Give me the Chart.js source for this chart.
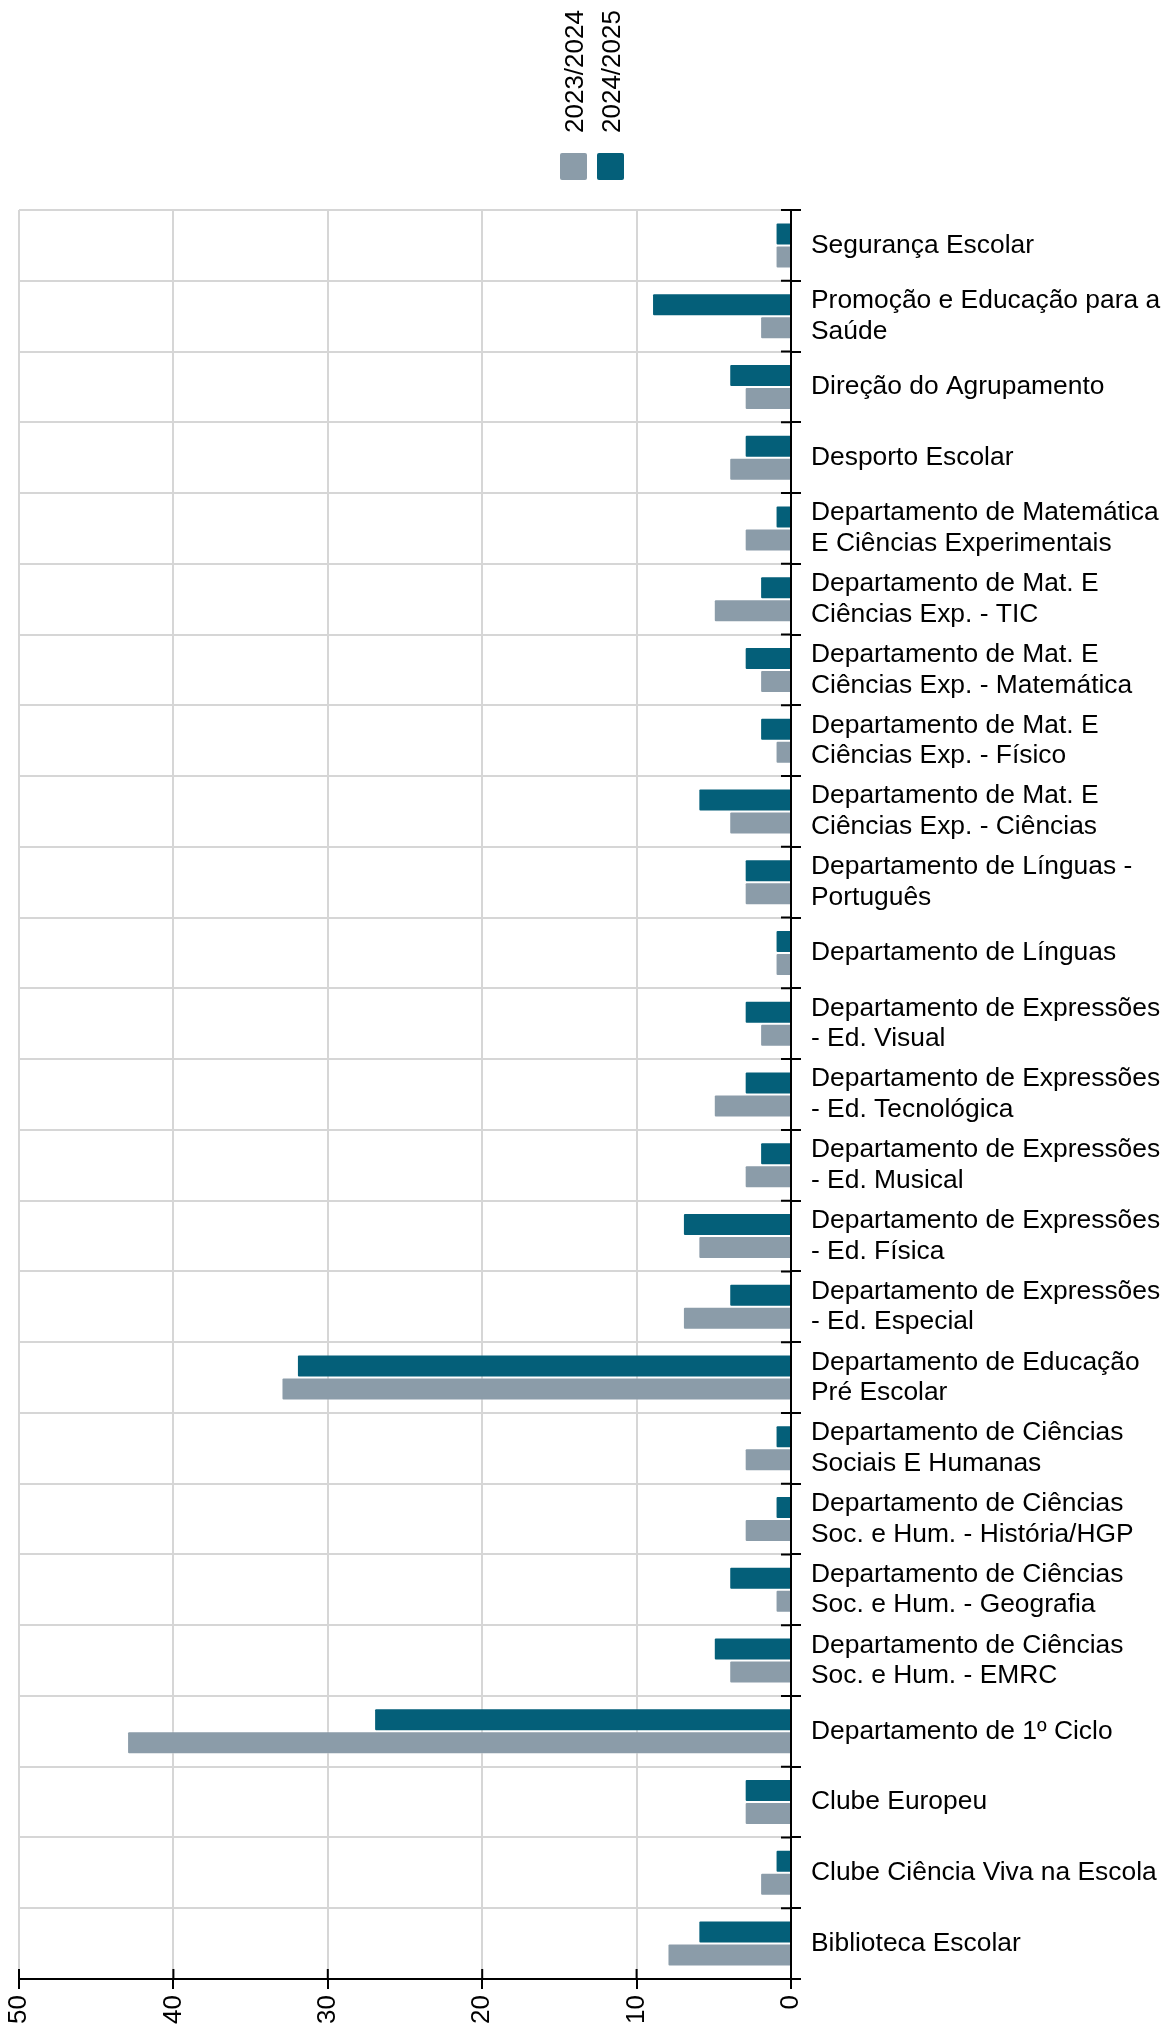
<!DOCTYPE html>
<html>
<head>
<meta charset="utf-8">
<script src="https://cdn.jsdelivr.net/npm/chart.js@4/dist/chart.umd.min.js"></script>
<style>
  html, body { margin: 0; padding: 0; background: #fff; }
  canvas { display: block; }
</style>
</head>
<body>
<canvas id="chart" width="1162" height="2027"></canvas>
<script>
// categories, top to bottom (already wrapped as in the original labels)
const categories = [
    'Segurança Escolar',
    ['Promoção e Educação para a', 'Saúde'],
    'Direção do Agrupamento',
    'Desporto Escolar',
    ['Departamento de Matemática', 'E Ciências Experimentais'],
    ['Departamento de Mat. E', 'Ciências Exp. - TIC'],
    ['Departamento de Mat. E', 'Ciências Exp. - Matemática'],
    ['Departamento de Mat. E', 'Ciências Exp. - Físico'],
    ['Departamento de Mat. E', 'Ciências Exp. - Ciências'],
    ['Departamento de Línguas -', 'Português'],
    'Departamento de Línguas',
    ['Departamento de Expressões', '- Ed. Visual'],
    ['Departamento de Expressões', '- Ed. Tecnológica'],
    ['Departamento de Expressões', '- Ed. Musical'],
    ['Departamento de Expressões', '- Ed. Física'],
    ['Departamento de Expressões', '- Ed. Especial'],
    ['Departamento de Educação', 'Pré Escolar'],
    ['Departamento de Ciências', 'Sociais E Humanas'],
    ['Departamento de Ciências', 'Soc. e Hum. - História/HGP'],
    ['Departamento de Ciências', 'Soc. e Hum. - Geografia'],
    ['Departamento de Ciências', 'Soc. e Hum. - EMRC'],
    'Departamento de 1º Ciclo',
    'Clube Europeu',
    'Clube Ciência Viva na Escola',
    'Biblioteca Escolar'
];

const values2023 = [1, 2, 3, 4, 3, 5, 2, 1, 4, 3, 1, 2, 5, 3, 6, 7, 33, 3, 3, 1, 4, 43, 3, 2, 8];
const values2024 = [1, 9, 4, 3, 1, 2, 3, 2, 6, 3, 1, 3, 3, 2, 7, 4, 32, 1, 1, 4, 5, 27, 3, 1, 6];

const seriesNames = ['2023/2024', '2024/2025'];
const valueTicks = [0, 10, 20, 30, 40, 50];

const gray = '#8b9ca9';
const teal = '#045f79';
const fontFamily = '"Liberation Sans", Arial, sans-serif';

// short black tick marks on the inner side of both axes
const innerTicks = {
    id: 'innerTicks',
    afterDraw(chart) {
        const ctx = chart.ctx;
        const x = chart.scales.x;
        const y = chart.scales.y;
        const area = chart.chartArea;
        ctx.save();
        ctx.strokeStyle = '#000';
        ctx.lineWidth = 2;
        ctx.beginPath();
        valueTicks.forEach(v => {
            const px = x.getPixelForValue(v);
            ctx.moveTo(px, area.bottom - 10);
            ctx.lineTo(px, area.bottom);
        });
        for (let k = 0; k <= categories.length; k++) {
            const py = y.getPixelForValue(k - 0.5);
            ctx.moveTo(area.right - 10, py);
            ctx.lineTo(area.right, py);
        }
        ctx.stroke();
        ctx.restore();
    }
};

// vertical legend above the chart
const verticalLegend = {
    id: 'verticalLegend',
    afterDraw(chart) {
        const ctx = chart.ctx;
        const size = 27;
        const gap = 10;
        const colors = [gray, teal];
        const startX = 560;
        const boxTop = 153;
        ctx.save();
        seriesNames.forEach((name, i) => {
            const bx = startX + i * (size + gap);
            ctx.fillStyle = colors[i];
            ctx.beginPath();
            if (ctx.roundRect) ctx.roundRect(bx, boxTop, size, size, 2);
            else ctx.rect(bx, boxTop, size, size);
            ctx.fill();

            ctx.save();
            ctx.translate(bx + size / 2 + 2, boxTop - 20);
            ctx.rotate(-Math.PI / 2);
            ctx.fillStyle = '#000';
            ctx.font = '26px ' + fontFamily;
            ctx.textAlign = 'left';
            ctx.textBaseline = 'middle';
            ctx.fillText(name, 0, 0);
            ctx.restore();
        });
        ctx.restore();
    }
};

const ctx = document.getElementById('chart').getContext('2d');
new Chart(ctx, {
    type: 'bar',
    data: {
        labels: categories,
        datasets: [
            {
                label: seriesNames[1],
                data: values2024,
                backgroundColor: teal,
                borderColor: 'rgba(255,255,255,0.25)',
                borderWidth: 1,
                borderRadius: 2,
            },
            {
                label: seriesNames[0],
                data: values2023,
                backgroundColor: gray,
                borderColor: 'rgba(255,255,255,0.35)',
                borderWidth: 1,
                borderRadius: 2,
            }
        ]
    },
    options: {
        indexAxis: 'y',
        responsive: false,
        animation: false,
        devicePixelRatio: 1,
        layout: { padding: { top: 210, left: 19, right: 0, bottom: 0 } },
        datasets: { bar: { categoryPercentage: 0.65, barPercentage: 1.0 } },
        plugins: {
            legend: { display: false },
            tooltip: { enabled: false }
        },
        scales: {
            x: {
                type: 'linear',
                position: 'bottom',
                reverse: true,
                min: 0,
                max: 50,
                afterFit: (scale) => { scale.height = 48; },
                afterBuildTicks: (scale) => { scale.ticks = valueTicks.map(v => ({ value: v })); },
                ticks: {
                    color: '#000',
                    font: { family: fontFamily, size: 26 },
                    minRotation: 90,
                    maxRotation: 90,
                    padding: 6,
                    autoSkip: false
                },
                grid: {
                    color: '#d6d6d6',
                    lineWidth: 2,
                    tickColor: '#000',
                    tickWidth: 2,
                    tickLength: 10
                },
                border: { color: '#000', width: 2 }
            },
            y: {
                position: 'right',
                afterFit: (scale) => { scale.width = 371; },
                ticks: {
                    color: '#000',
                    font: { family: fontFamily, size: 26.4, lineHeight: 1.16 },
                    padding: 10,
                    autoSkip: false
                },
                grid: {
                    color: '#d6d6d6',
                    lineWidth: 2,
                    tickColor: '#000',
                    tickWidth: 2,
                    tickLength: 10
                },
                border: { color: '#000', width: 2 }
            }
        }
    },
    plugins: [innerTicks, verticalLegend]
});
</script>
</body>
</html>
